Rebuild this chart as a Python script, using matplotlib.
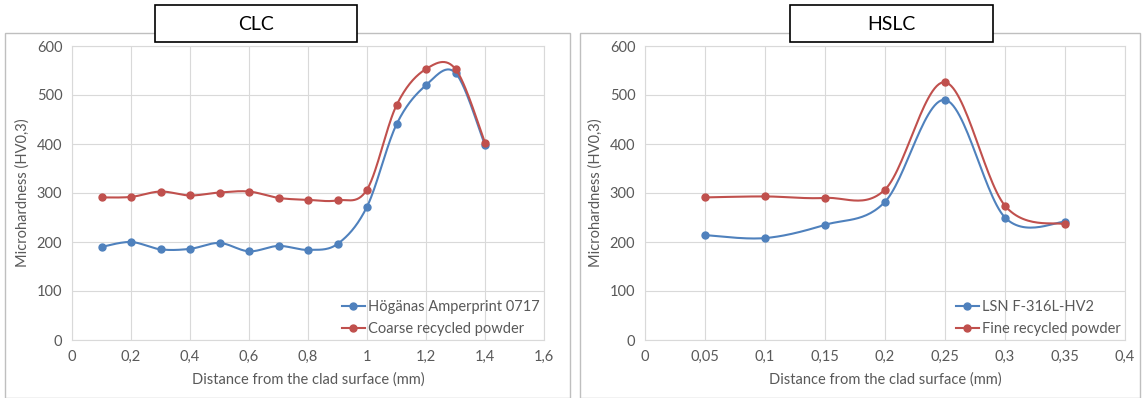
import numpy as np
import matplotlib
matplotlib.use("Agg")
import matplotlib.pyplot as plt
from matplotlib.patches import Rectangle

plt.rcParams['font.family'] = ['Lato', 'DejaVu Sans']

# CLC data
clc_x = [0.1, 0.2, 0.3, 0.4, 0.5, 0.6, 0.7, 0.8, 0.9, 1.0, 1.1, 1.2, 1.3, 1.4]
clc_hoganas = [190, 200, 185, 186, 198, 181, 192, 184, 196, 272, 440, 520, 545, 397]
clc_coarse = [291, 292, 303, 295, 301, 303, 290, 286, 285, 307, 479, 553, 553, 403]

# HSLC data
hslc_x = [0.05, 0.1, 0.15, 0.2, 0.25, 0.3, 0.35]
hslc_lsn = [214, 208, 235, 282, 490, 250, 241]
hslc_fine = [291, 293, 290, 307, 526, 274, 236]

clc_xticks = [0, 0.2, 0.4, 0.6, 0.8, 1.0, 1.2, 1.4, 1.6]
clc_xlabels = ['0', '0,2', '0,4', '0,6', '0,8', '1', '1,2', '1,4', '1,6']
hslc_xticks = [0, 0.05, 0.1, 0.15, 0.2, 0.25, 0.3, 0.35, 0.4]
hslc_xlabels = ['0', '0,05', '0,1', '0,15', '0,2', '0,25', '0,3', '0,35', '0,4']
yticks = [0, 100, 200, 300, 400, 500, 600]

BLUE = '#4F81BD'
RED = '#C0504D'
GRID = '#d9d9d9'
TXT = '#595959'


def smooth(x, y, n=30):
    # Excel-style smoothed line (Catmull-Rom bezier between points)
    x = np.asarray(x, float)
    y = np.asarray(y, float)
    px, py = [], []
    for i in range(len(x) - 1):
        x0, y0 = (x[i - 1], y[i - 1]) if i > 0 else (x[i], y[i])
        x3, y3 = (x[i + 2], y[i + 2]) if i + 2 < len(x) else (x[i + 1], y[i + 1])
        x1, y1, x2, y2 = x[i], y[i], x[i + 1], y[i + 1]
        c1x, c1y = x1 + (x2 - x0) / 6, y1 + (y2 - y0) / 6
        c2x, c2y = x2 - (x3 - x1) / 6, y2 - (y3 - y1) / 6
        t = np.linspace(0, 1, n)
        px.extend((1 - t) ** 3 * x1 + 3 * (1 - t) ** 2 * t * c1x + 3 * (1 - t) * t ** 2 * c2x + t ** 3 * x2)
        py.extend((1 - t) ** 3 * y1 + 3 * (1 - t) ** 2 * t * c1y + 3 * (1 - t) * t ** 2 * c2y + t ** 3 * y2)
    return px, py


def draw(ax, x, s1, s2, l1, l2, xticks, xlabels, xmax):
    for s, c, lab in [(s1, BLUE, l1), (s2, RED, l2)]:
        sx, sy = smooth(x, s)
        ax.plot(sx, sy, color=c, lw=1.5)
        ax.plot(x, s, 'o', color=c, ms=5)
        ax.plot([], [], '-o', color=c, ms=5, lw=1.5, label=lab)
    ax.set_xlim(0, xmax)
    ax.set_ylim(0, 600)
    ax.set_xticks(xticks)
    ax.set_xticklabels(xlabels)
    ax.set_yticks(yticks)
    ax.grid(True, color=GRID, lw=0.8)
    ax.set_axisbelow(True)
    for sp in ax.spines.values():
        sp.set_color(GRID)
    ax.tick_params(length=0, colors=TXT, labelsize=10.5, pad=7)
    ax.set_ylabel('Microhardness (HV0,3)', color=TXT, fontsize=10.5, labelpad=5)
    ax.set_xlabel('Distance from the clad surface (mm)', color=TXT, fontsize=10.5, labelpad=6)
    ax.legend(loc='lower right', frameon=False, fontsize=10.5, labelcolor=TXT,
              handlelength=1.6, handletextpad=0.2, borderaxespad=0.0, borderpad=0.3,
              labelspacing=0.5)


fig = plt.figure(figsize=(11.42, 3.98), dpi=100)
W, H = 1142, 398

# chart frames
fig.patches.append(Rectangle((5 / W, 0), 565 / W, 1 - 33 / H, transform=fig.transFigure,
                             fill=False, ec='#bfbfbf', lw=1))
fig.patches.append(Rectangle((580 / W, 0), 560 / W, 1 - 33 / H, transform=fig.transFigure,
                             fill=False, ec='#bfbfbf', lw=1))

ax1 = fig.add_axes([72 / W, 1 - 340 / H, 472 / W, 294 / H])
ax2 = fig.add_axes([645 / W, 1 - 340 / H, 480 / W, 294 / H])

draw(ax1, clc_x, clc_hoganas, clc_coarse, 'Högänas Amperprint 0717', 'Coarse recycled powder',
     clc_xticks, clc_xlabels, 1.6)
draw(ax2, hslc_x, hslc_lsn, hslc_fine, 'LSN F-316L-HV2', 'Fine recycled powder',
     hslc_xticks, hslc_xlabels, 0.4)

# title boxes
for x0, x1, t in [(155, 357, 'CLC'), (790, 993, 'HSLC')]:
    fig.patches.append(Rectangle((x0 / W, 1 - 42 / H), (x1 - x0) / W, 37 / H,
                                 transform=fig.transFigure, fc='white', ec='black', lw=1.2, zorder=5))
    fig.text((x0 + x1) / 2 / W, 1 - 24 / H, t, ha='center', va='center', fontsize=14, zorder=6)

fig.savefig('out.png', dpi=100)
